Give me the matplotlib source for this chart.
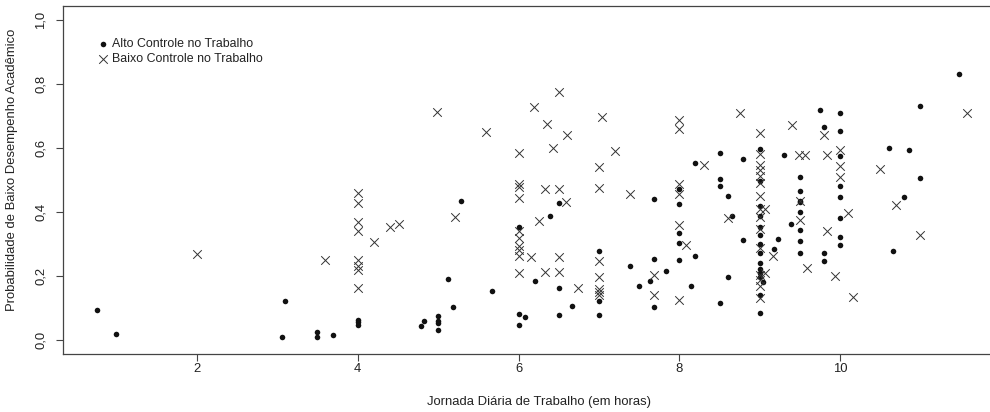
import matplotlib
matplotlib.use("Agg")
import matplotlib.pyplot as plt

plt.rcParams['font.family'] = ['Liberation Sans', 'DejaVu Sans']

# Alto Controle no Trabalho (dots)
alto_x = [0.76, 1.00,
          3.06, 3.10, 3.49, 3.49, 3.70,
          4.0, 4.0, 4.0,
          4.79, 4.83,
          5.0, 5.0, 5.0, 5.0,
          5.12, 5.19, 5.29, 5.67,
          6.0, 6.0, 6.0, 6.08, 6.2,
          6.39, 6.5, 6.5, 6.5, 6.66,
          7.0, 7.0, 7.0,
          7.39, 7.5, 7.63, 7.69, 7.69, 7.69, 7.83,
          8.0, 8.0, 8.0, 8.0, 8.0,
          8.14, 8.19, 8.19,
          8.5, 8.5, 8.5, 8.5,
          8.6, 8.6, 8.66, 8.79, 8.79,
          9.0, 9.0, 9.0, 9.0, 9.0, 9.0, 9.0, 9.0, 9.0, 9.0, 9.0, 9.0, 9.0, 9.0,
          9.04, 9.17, 9.22, 9.30, 9.39,
          9.5, 9.5, 9.5, 9.5, 9.5, 9.5, 9.5, 9.5,
          9.75, 9.8, 9.8, 9.8,
          10.0, 10.0, 10.0, 10.0, 10.0, 10.0, 10.0, 10.0,
          10.6, 10.65, 10.79, 10.85, 10.99, 10.99, 11.48]
alto_y = [0.092, 0.019,
          0.010, 0.122, 0.026, 0.010, 0.016,
          0.063, 0.055, 0.047,
          0.042, 0.060,
          0.076, 0.058, 0.052, 0.030,
          0.19, 0.104, 0.435, 0.154,
          0.354, 0.080, 0.045, 0.073, 0.184,
          0.388, 0.429, 0.161, 0.078, 0.106,
          0.279, 0.12, 0.078,
          0.232, 0.169, 0.185, 0.44, 0.254, 0.102, 0.215,
          0.471, 0.425, 0.333, 0.302, 0.25,
          0.167, 0.552, 0.2625,
          0.583, 0.502, 0.481, 0.115,
          0.448, 0.198, 0.388, 0.565, 0.3125,
          0.596, 0.495, 0.419, 0.388, 0.354, 0.328, 0.299, 0.273, 0.24, 0.221, 0.208, 0.195, 0.14, 0.085,
          0.182, 0.283, 0.316, 0.578, 0.361,
          0.508, 0.466, 0.435, 0.43, 0.399, 0.342, 0.31, 0.273,
          0.717, 0.664, 0.271, 0.245,
          0.71, 0.653, 0.576, 0.481, 0.446, 0.382, 0.323, 0.297,
          0.601, 0.279, 0.445, 0.593, 0.731, 0.505, 0.83]

# Baixo Controle no Trabalho (crosses)
baixo_x = [2.0, 3.6,
           4.0, 4.0, 4.0, 4.0, 4.0, 4.0, 4.0, 4.0,
           4.2, 4.4, 4.51,
           4.99, 5.21, 5.6,
           6.0, 6.0, 6.0, 6.0, 6.0, 6.0, 6.0, 6.0, 6.0, 6.0,
           6.16, 6.19, 6.26, 6.33, 6.33, 6.35, 6.43,
           6.5, 6.5, 6.5, 6.5, 6.59, 6.6, 6.74,
           7.0, 7.0, 7.0, 7.0, 7.0, 7.0, 7.0, 7.04, 7.2,
           7.39, 7.69, 7.69,
           8.0, 8.0, 8.0, 8.0, 8.0, 8.0, 8.08, 8.30,
           8.6, 8.75,
           9.0, 9.0, 9.0, 9.0, 9.0, 9.0, 9.0, 9.0, 9.0, 9.0, 9.0, 9.0, 9.0, 9.0, 9.0,
           9.07, 9.07, 9.16, 9.40, 9.49, 9.56, 9.5, 9.5, 9.59,
           9.80, 9.83, 9.83, 9.93,
           10.0, 10.0, 10.0, 10.09, 10.16,
           10.49, 10.69, 10.99, 11.58]
baixo_y = [0.269, 0.25,
           0.46, 0.429, 0.367, 0.339, 0.25, 0.23, 0.219, 0.162,
           0.307, 0.354, 0.361,
           0.713, 0.385, 0.651,
           0.583, 0.487, 0.477, 0.443, 0.339, 0.318, 0.292, 0.281, 0.2625, 0.208,
           0.26, 0.729, 0.37, 0.47, 0.211, 0.674, 0.601,
           0.776, 0.47, 0.26, 0.211, 0.432, 0.64, 0.161,
           0.54, 0.474, 0.247, 0.198, 0.16, 0.15, 0.14, 0.696, 0.59,
           0.456, 0.203, 0.14,
           0.6875, 0.658, 0.4875, 0.456, 0.359, 0.125, 0.297, 0.547,
           0.38, 0.708,
           0.646, 0.581, 0.547, 0.53, 0.513, 0.49, 0.45, 0.408, 0.385, 0.347, 0.287, 0.203, 0.1875, 0.169, 0.132,
           0.408, 0.208, 0.2625, 0.672, 0.578, 0.578, 0.435, 0.375, 0.224,
           0.64, 0.578, 0.339, 0.2,
           0.592, 0.542, 0.51, 0.398, 0.135,
           0.534, 0.422, 0.328, 0.708]

x_ticks = [2, 4, 6, 8, 10]
y_ticks = [0.0, 0.2, 0.4, 0.6, 0.8, 1.0]
y_ticklabels = ["0,0", "0,2", "0,4", "0,6", "0,8", "1,0"]

W, H = 990, 412
fig = plt.figure(figsize=(W / 100, H / 100), dpi=100)
x_left_px, x_right_px = 62.7, 1003.6
y_top_px, y_bot_px = 6.0, 353.7
ax = fig.add_axes([x_left_px / W, 1 - y_bot_px / H, (x_right_px - x_left_px) / W, (y_bot_px - y_top_px) / H])

ax.scatter(alto_x, alto_y, s=16, marker='o', color='#111111', linewidths=0,
           label='Alto Controle no Trabalho', zorder=3)
ax.scatter(baixo_x, baixo_y, s=38, marker='x', color='#333333', linewidths=0.7,
           label='Baixo Controle no Trabalho', zorder=3)

ax.set_xlim(0.334, 12.03)
ax.set_ylim(-0.0431, 1.0431)
ax.set_xticks(x_ticks)
ax.set_xticklabels([str(t) for t in x_ticks])
ax.set_yticks(y_ticks)
ax.set_yticklabels(y_ticklabels, rotation=90, va='center')

for sp in ax.spines.values():
    sp.set_color('#444444')
    sp.set_linewidth(0.9)
ax.tick_params(axis='both', direction='out', length=5, width=0.8, color='#444444',
               labelsize=9.4, labelcolor='#222222')
ax.tick_params(axis='x', pad=2)
ax.tick_params(axis='y', pad=6.5)

ax.set_xlabel('Jornada Diária de Trabalho (em horas)', fontsize=9.4, color='#222222')
ax.set_ylabel('Probabilidade de Baixo Desempenho Acadêmico', fontsize=9.4, color='#222222')
# place axis labels where the reference has them
aw = x_right_px - x_left_px
ah = y_bot_px - y_top_px
ax.xaxis.set_label_coords((539 - x_left_px) / aw, (y_bot_px - 395.5) / ah)
ax.yaxis.set_label_coords((18 - x_left_px) / aw, (y_bot_px - 170) / ah)

leg = ax.legend(loc='upper left', bbox_to_anchor=(0.0305, 0.921), frameon=False,
                fontsize=8.9, handletextpad=0.3, labelspacing=0.22, borderaxespad=0,
                handlelength=1.0, labelcolor='#222222')

fig.savefig('out.png', dpi=100)
